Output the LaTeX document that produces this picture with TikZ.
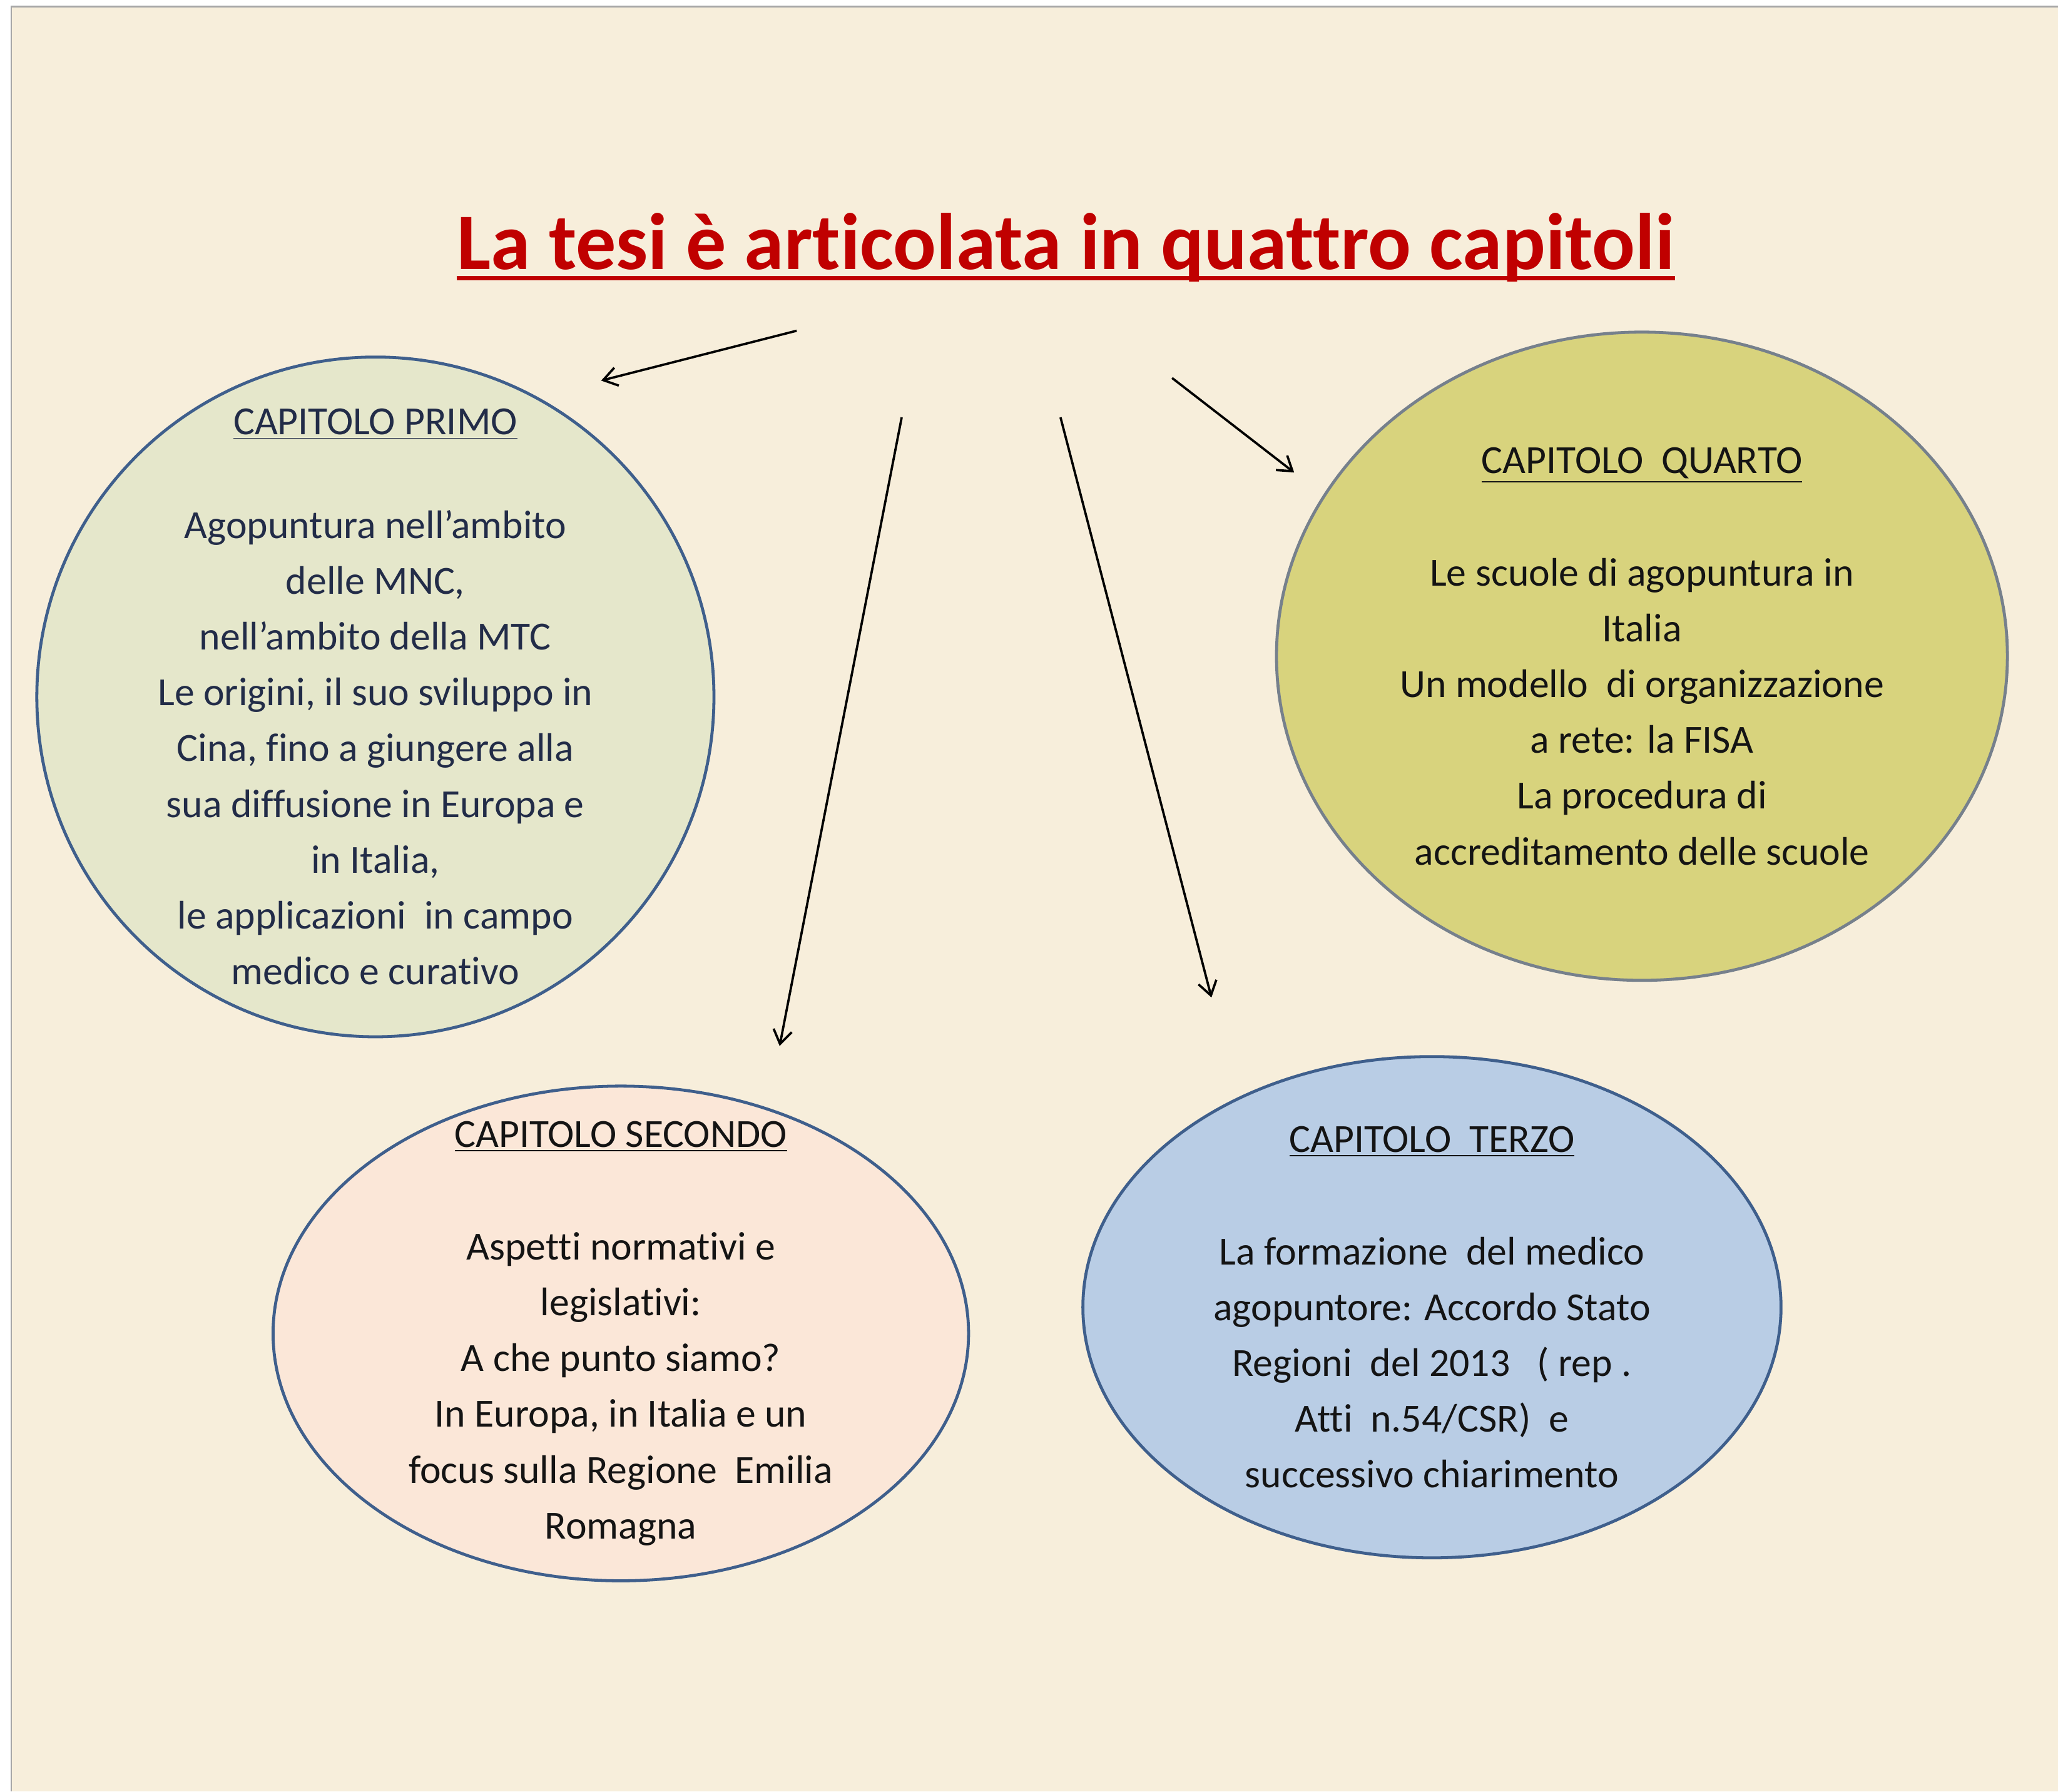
\documentclass[tikz,border=0pt]{standalone}
\usepackage{fontspec}
\setmainfont[Ligatures=NoCommon]{Carlito}
\usetikzlibrary{arrows.meta,shapes}
\usepackage{xcolor}
\definecolor{sfondo}{HTML}{F7EEDB}
\definecolor{rossotitolo}{HTML}{C00000}
\definecolor{bordo}{HTML}{3F5F8C}
\definecolor{bordogrigio}{HTML}{76808C}
\definecolor{verdino}{HTML}{E5E7CB}
\definecolor{giallino}{HTML}{D8D37D}
\definecolor{pesca}{HTML}{FBE7D8}
\definecolor{azzurro}{HTML}{B9CDE5}
\definecolor{blunotte}{HTML}{222C48}
\definecolor{quasinero}{HTML}{141414}

\begin{document}
\begin{tikzpicture}[x=0.02cm,y=-0.02cm]
        \useasboundingbox (0,0) rectangle (1568,1365);
        \fill[white] (0,0) rectangle (1568,1365);
        \fill[sfondo] (8.5,5) rectangle (1568,1365);
        \draw[gray!70,line width=0.6pt] (8.5,1365) -- (8.5,5) -- (1568,5);
        \tikzset{capitolo/.style={ellipse,draw=bordo,line width=1.3pt,inner sep=0pt},
                 testo/.style={align=center,inner sep=0pt,text=quasinero,font=\fontsize{17.3}{24.2}\selectfont},
                 freccia/.style={-{Straight Barb[length=6pt,width=8pt]},line width=1pt}}
        \node[text=rossotitolo,font=\fontsize{34.8}{40}\selectfont\bfseries,inner sep=0pt,anchor=base] (titolo) at (812,205) {La tesi è articolata in quattro capitoli};
        \draw[rossotitolo,line width=1.8pt] ([yshift=-4pt]titolo.base west) -- ([yshift=-4pt]titolo.base east);
        \node[capitolo,fill=verdino,minimum width=10.32cm,minimum height=10.36cm] (primo) at (286,531) {};
        \node[capitolo,fill=giallino,draw=bordogrigio,minimum width=11.14cm,minimum height=9.88cm] (quarto) at (1251,500) {};
        \node[capitolo,fill=pesca,minimum width=10.6cm,minimum height=7.54cm] (secondo) at (473,1016) {};
        \node[capitolo,fill=azzurro,minimum width=10.64cm,minimum height=7.64cm] (terzo) at (1091,996) {};
        \node[testo,text=blunotte] (primotesto) at (primo) {\underline{CAPITOLO PRIMO}\\[20.6pt]
                Agopuntura nell’ambito\\ delle MNC,\\ nell’ambito della MTC\\
                Le origini, il suo sviluppo in\\ Cina, fino a giungere alla\\
                sua diffusione in Europa e\\ in Italia,\\ le applicazioni\ \ in campo\\
                medico e curativo};
        \node[testo] (quartotesto) at (quarto) {\underline{CAPITOLO\ \ QUARTO}\\[24.6pt]
                Le scuole di agopuntura in\\ Italia\\ Un modello\ \ di organizzazione\\
                a rete: la FISA\\ La procedura di\\ accreditamento delle scuole};
        \node[testo] (secondotesto) at (secondo) {\underline{CAPITOLO SECONDO}\\[24.6pt]
                Aspetti normativi e\\ legislativi:\\ A che punto siamo?\\
                In Europa, in Italia e un\\ focus sulla Regione\ \ Emilia\\ Romagna};
        \node[testo] (terzotesto) at (terzo) {\underline{CAPITOLO\ \ TERZO}\\[24.6pt]
                La formazione\ \ del medico\\ agopuntore: Accordo Stato\\
                Regioni\ \ del 2013\ \ \ ( rep .\\ Atti\ \ n.54/CSR)\ \ e\\
                successivo chiarimento};
        \coordinate (p1) at (607,252);
        \coordinate (q1) at (458,290);
        \coordinate (p2) at (687,318);
        \coordinate (q2) at (594,797);
        \coordinate (p3) at (808,318);
        \coordinate (q3) at (923,760);
        \coordinate (p4) at (893,288);
        \coordinate (q4) at (986,360);
        \draw[freccia] (p1) -- (q1);
        \draw[freccia] (p2) -- (q2);
        \draw[freccia] (p3) -- (q3);
        \draw[freccia] (p4) -- (q4);
\end{tikzpicture}
\end{document}
